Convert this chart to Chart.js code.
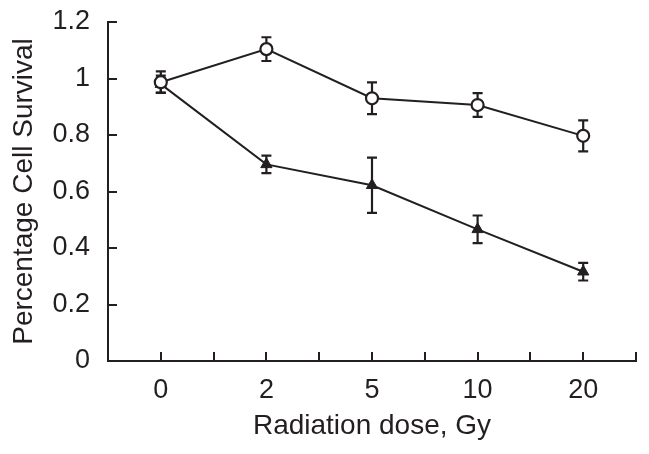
<!DOCTYPE html>
<html lang="en">
<head>
    <meta charset="UTF-8">
    <title>Cell survival vs radiation dose</title>
    <style>
        html, body { margin: 0; padding: 0; background: #fff; }
        #wrap { width: 649px; height: 454px; }
    </style>
</head>
<body>
    <div id="wrap">
        <canvas id="survivalChart" width="649" height="454"></canvas>
    </div>

    <script src="https://cdn.jsdelivr.net/npm/chart.js"></script>
    <script>
        // Data
        const doseLabels = ['0', '2', '5', '10', '20'];
        const yTickLabels = ['0', '0.2', '0.4', '0.6', '0.8', '1', '1.2'];

        const openValues = [0.987, 1.104, 0.930, 0.906, 0.797];
        const openErrors = [0.038, 0.042, 0.056, 0.042, 0.055];

        const filledValues = [0.980, 0.696, 0.622, 0.466, 0.316];
        const filledErrors = [0.030, 0.031, 0.098, 0.049, 0.031];

        const ink = '#231f20';
        Chart.defaults.font.family = "'Liberation Sans', Arial, sans-serif";
        Chart.defaults.color = ink;

        // Error bars, drawn behind the markers
        const errorBars = {
            id: 'errorBars',
            beforeDatasetsDraw(chart) {
                const ctx = chart.ctx;
                const yScale = chart.scales.y;
                ctx.save();
                ctx.strokeStyle = ink;
                ctx.lineWidth = 2.2;
                chart.data.datasets.forEach((ds, di) => {
                    const meta = chart.getDatasetMeta(di);
                    meta.data.forEach((pt, i) => {
                        const v = ds.data[i].y;
                        const e = ds.errors[i];
                        const top = yScale.getPixelForValue(v + e);
                        const bot = yScale.getPixelForValue(v - e);
                        ctx.beginPath();
                        ctx.moveTo(pt.x, top);
                        ctx.lineTo(pt.x, bot);
                        ctx.moveTo(pt.x - 5, top);
                        ctx.lineTo(pt.x + 5, top);
                        ctx.moveTo(pt.x - 5, bot);
                        ctx.lineTo(pt.x + 5, bot);
                        ctx.stroke();
                    });
                });
                ctx.restore();
            }
        };

        const toPoints = vals => vals.map((v, i) => ({ x: i, y: v }));

        new Chart(document.getElementById('survivalChart'), {
            type: 'line',
            data: {
                datasets: [
                    {
                        label: 'open',
                        data: toPoints(openValues),
                        errors: openErrors,
                        order: 0,
                        borderColor: ink,
                        borderWidth: 2,
                        pointStyle: 'circle',
                        pointRadius: 6,
                        pointBorderWidth: 2.2,
                        pointBackgroundColor: '#fff',
                        pointBorderColor: ink,
                        tension: 0
                    },
                    {
                        label: 'filled',
                        data: toPoints(filledValues),
                        errors: filledErrors,
                        order: 1,
                        borderColor: ink,
                        borderWidth: 2,
                        pointStyle: 'triangle',
                        pointRadius: 6.5,
                        pointBorderWidth: 1,
                        pointBackgroundColor: ink,
                        pointBorderColor: ink,
                        tension: 0
                    }
                ]
            },
            options: {
                responsive: false,
                animation: false,
                layout: { padding: { top: 22, right: 13, left: 0, bottom: 0 } },
                plugins: {
                    legend: { display: false },
                    tooltip: { enabled: false }
                },
                scales: {
                    x: {
                        type: 'linear',
                        min: -0.5,
                        max: 4.5,
                        afterFit: s => {
                            s.height = 93;
                            s.paddingLeft = 0;
                            s.paddingRight = 0;
                        },
                        border: { display: true, color: ink, width: 2 },
                        grid: {
                            drawOnChartArea: false,
                            drawTicks: true,
                            tickLength: -9,
                            color: ink,
                            lineWidth: 2
                        },
                        ticks: {
                            stepSize: 0.5,
                            autoSkip: false,
                            maxRotation: 0,
                            padding: 22,
                            font: { size: 27 },
                            color: ink,
                            callback: v => Number.isInteger(v) ? doseLabels[v] : ''
                        },
                        title: {
                            display: true,
                            text: 'Radiation dose, Gy',
                            font: { size: 28 },
                            color: ink,
                            padding: { top: 0, bottom: 11 }
                        }
                    },
                    y: {
                        min: 0,
                        max: 1.2,
                        afterFit: s => {
                            s.width = 108;
                            s.paddingTop = 0;
                            s.paddingBottom = 0;
                        },
                        border: { display: true, color: ink, width: 2 },
                        grid: {
                            drawOnChartArea: false,
                            drawTicks: true,
                            tickLength: -9,
                            color: ink,
                            lineWidth: 2
                        },
                        ticks: {
                            stepSize: 0.2,
                            padding: 27,
                            font: { size: 27 },
                            color: ink,
                            callback: (v, i) => yTickLabels[i]
                        },
                        title: {
                            display: true,
                            text: 'Percentage Cell Survival',
                            font: { size: 28 },
                            color: ink,
                            padding: { top: 7, bottom: 0 }
                        }
                    }
                }
            },
            plugins: [errorBars]
        });
    </script>
</body>
</html>
